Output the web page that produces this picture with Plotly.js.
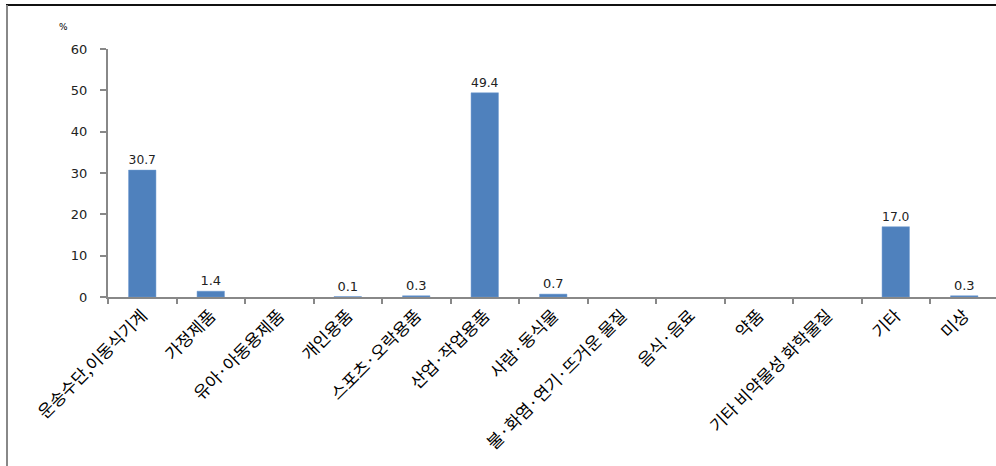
<!DOCTYPE html>
<html>
<head>
<meta charset="utf-8">
<script src="https://cdn.plot.ly/plotly-3.0.1.min.js"></script>
<style>
html,body{margin:0;padding:0;background:#fff;}
#chart{width:996px;height:466px;}
</style>
</head>
<body>
<div id="chart"></div>
<script>
const categories = [
  "운송수단,이동식기계", "가정제품", "유아·아동용제품", "개인용품", "스포츠·오락용품",
  "산업·작업용품", "사람·동식물", "불·화염·연기·뜨거운 물질", "음식·음료", "약품",
  "기타 비약물성 화학물질", "기타", "미상"
];
const values = [30.7, 1.4, null, 0.1, 0.3, 49.4, 0.7, null, null, null, null, 17.0, 0.3];
const yTicks = [0, 10, 20, 30, 40, 50, 60];
const yUnit = "%";

const labels = values.map(v => v == null ? "" : v.toFixed(1));

// layout geometry (pixels)
const W = 996, H = 466, L = 108, T = 49, B = 169;
const plotW = W - L, plotH = H - T - B;
const px2x = p => (p - L) / plotW;
const px2y = p => (H - B - p) / plotH;

const trace = {
  type: "bar",
  x: categories,
  y: values,
  text: labels,
  textposition: "outside",
  cliponaxis: false,
  textfont: {family: "DejaVu Sans, Verdana, sans-serif", size: 13, color: "#222"},
  marker: {color: "#4F81BD", line: {color: "#6f9bd1", width: 0.5}},
  width: 0.4,
  hoverinfo: "x+y"
};

const layout = {
  width: W, height: H,
  margin: {l: L, r: 0, t: T, b: B, pad: 0},
  paper_bgcolor: "#fff", plot_bgcolor: "#fff",
  showlegend: false,
  font: {family: "Noto Sans CJK KR, sans-serif", color: "#000"},
  xaxis: {
    type: "category",
    range: [-0.5, -0.5 + plotW / 68.5],
    tickangle: -45,
    tickfont: {family: "Noto Sans CJK KR, sans-serif", size: 17, color: "#000"},
    showline: true, linecolor: "#888", linewidth: 2,
    ticks: "outside", tickson: "boundaries", ticklen: 5, tickcolor: "#888", tickwidth: 2,
    showgrid: false, zeroline: false, fixedrange: true
  },
  yaxis: {
    range: [0, 60],
    tickvals: yTicks,
    ticktext: yTicks.map(String),
    tickfont: {family: "DejaVu Sans, Verdana, sans-serif", size: 13, color: "#222"},
    ticklabelstandoff: 10,
    showline: true, linecolor: "#888", linewidth: 2,
    ticks: "outside", ticklen: 6, tickcolor: "#888", tickwidth: 2,
    showgrid: false, zeroline: false, fixedrange: true
  },
  annotations: [{
    xref: "paper", yref: "paper",
    x: px2x(57), y: px2y(20),
    text: yUnit, showarrow: false,
    font: {family: "DejaVu Sans, sans-serif", size: 9, color: "#000"}
  }],
  shapes: [
    {type: "line", xref: "paper", yref: "paper",
     x0: px2x(6), x1: px2x(998), y0: px2y(5), y1: px2y(5),
     line: {color: "#111", width: 2}},
    {type: "line", xref: "paper", yref: "paper",
     x0: px2x(7), x1: px2x(7), y0: px2y(5), y1: px2y(470),
     line: {color: "#888", width: 2}}
  ]
};

Plotly.newPlot("chart", [trace], layout, {displayModeBar: false, staticPlot: false});
</script>
</body>
</html>
